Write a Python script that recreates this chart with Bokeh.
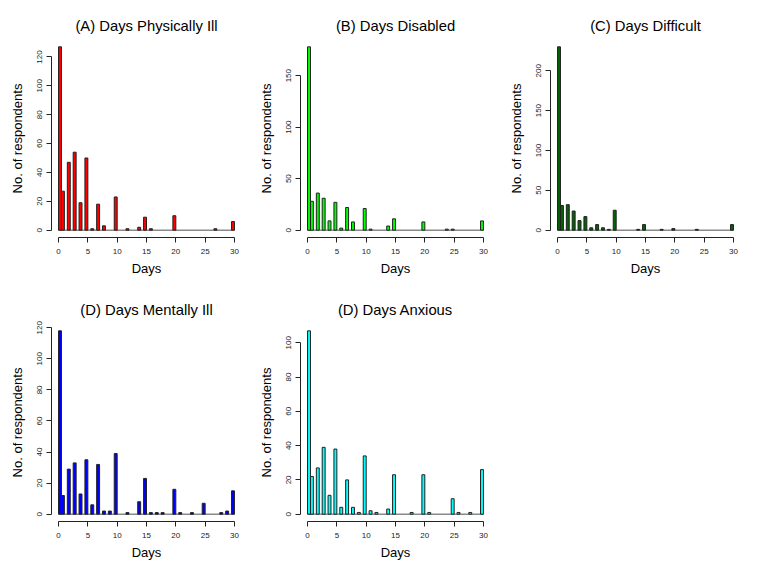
from bokeh.plotting import figure
from bokeh.layouts import column, row
from bokeh.models import Range1d, FixedTicker, ColumnDataSource
from bokeh.embed import file_html
from bokeh.resources import INLINE

FONT = "Liberation Sans"

# ---- data ----
x_ticks = [0, 5, 10, 15, 20, 25, 30]
bin_width = 0.5

a_title = "(A) Days Physically Ill"
a_days = [0, 1, 2, 3, 4, 5, 6, 7, 8, 10, 12, 14, 15, 16, 20, 27, 30]
a_counts = [127, 27, 47, 54, 19, 50, 1, 18, 3, 23, 1, 2, 9, 1, 10, 1, 6]
a_yticks = [0, 20, 40, 60, 80, 100, 120]

b_title = "(B) Days Disabled"
b_days = [0, 1, 2, 3, 4, 5, 6, 7, 8, 10, 11, 14, 15, 20, 24, 25, 30]
b_counts = [178, 28, 36, 31, 9, 27, 2, 22, 8, 21, 1, 4, 11, 8, 1, 1, 9]
b_yticks = [0, 50, 100, 150]

c_title = "(C) Days Difficult"
c_days = [0, 1, 2, 3, 4, 5, 6, 7, 8, 9, 10, 14, 15, 18, 20, 24, 30]
c_counts = [230, 31, 32, 24, 12, 17, 3, 7, 3, 1, 25, 1, 7, 1, 2, 1, 7]
c_yticks = [0, 50, 100, 150, 200]

d_title = "(D) Days Mentally Ill"
d_days = [0, 1, 2, 3, 4, 5, 6, 7, 8, 9, 10, 12, 14, 15, 16, 17, 18, 20, 21, 23, 25, 28, 29, 30]
d_counts = [118, 12, 29, 33, 13, 35, 6, 32, 2, 2, 39, 1, 8, 23, 1, 1, 1, 16, 1, 1, 7, 1, 2, 15]
d_yticks = [0, 20, 40, 60, 80, 100, 120]

e_title = "(D) Days Anxious"
e_days = [0, 1, 2, 3, 4, 5, 6, 7, 8, 9, 10, 11, 12, 14, 15, 18, 20, 21, 25, 26, 28, 30]
e_counts = [107, 22, 27, 39, 11, 38, 4, 20, 4, 1, 34, 2, 1, 3, 23, 1, 23, 1, 9, 1, 1, 26]
e_yticks = [0, 20, 40, 60, 80, 100]


def panel(title, days, counts, yticks, color, width, bl, br, height, bt, bb):
    lo, hi = x_ticks[0], x_ticks[-1]
    span = hi - lo
    ymax = max(counts)
    p = figure(width=width, height=height, output_backend="svg", toolbar_location=None,
               x_range=Range1d(lo - 0.04 * span, hi + 0.04 * span),
               y_range=Range1d(-0.04 * ymax, 1.04 * ymax),
               min_border_left=bl, min_border_right=br,
               min_border_top=bt, min_border_bottom=bb,
               x_axis_label="Days", y_axis_label="No. of respondents",
               title=title)
    p.outline_line_color = None
    p.xgrid.visible = False
    p.ygrid.visible = False
    p.background_fill_color = "white"
    p.border_fill_color = "white"

    p.title.text = title
    p.title.align = "center"
    p.title.text_font = FONT
    p.title.text_font_size = "14.8px"
    p.title.text_font_style = "normal"
    p.title.text_color = "black"
    p.title.standoff = 11

    # histogram bins of width 0.5 (right-closed, first bin includes 0)
    left = [d - bin_width if d > lo else lo for d in days]
    right = [d if d > lo else lo + bin_width for d in days]
    src = ColumnDataSource(dict(left=left, right=right, top=counts))

    p.segment(x0=[lo], x1=[hi], y0=[0], y1=[0], line_color="#8a8a8a", line_width=1.5)
    p.quad(left="left", right="right", bottom=0, top="top", source=src,
           fill_color=color, line_color="#222222", line_width=1)

    p.xaxis.ticker = FixedTicker(ticks=x_ticks)
    p.xaxis.bounds = (lo, hi)
    p.yaxis.ticker = FixedTicker(ticks=yticks)
    p.yaxis.bounds = (yticks[0], yticks[-1])
    p.yaxis.major_label_orientation = "vertical"
    for ax in (p.xaxis[0], p.yaxis[0]):
        ax.axis_line_color = "#222222"
        ax.major_tick_line_color = "#222222"
        ax.major_tick_out = 5
        ax.major_tick_in = 0
        ax.minor_tick_line_color = None
        ax.major_label_text_font = FONT
        ax.major_label_text_font_size = "8px"
        ax.major_label_text_color = "#222222"
        ax.axis_label_text_font = FONT
        ax.axis_label_text_font_size = "13px"
        ax.axis_label_text_font_style = "normal"
        ax.axis_label_text_color = "black"
    p.xaxis.major_label_standoff = 6
    p.xaxis.axis_label_standoff = 4
    p.yaxis.major_label_standoff = 4
    p.yaxis.axis_label_standoff = 10
    return p


pa = panel(a_title, a_days, a_counts, a_yticks, "#FF0000", 252, 51, 11, 285, 39, 48)
pb = panel(b_title, b_days, b_counts, b_yticks, "#00FF00", 250, 48, 12, 285, 39, 48)
pc = panel(c_title, c_days, c_counts, c_yticks, "#006400", 250, 48, 12, 285, 39, 48)
pd = panel(d_title, d_days, d_counts, d_yticks, "#0000FF", 252, 51, 11, 277, 38, 41)
pe = panel(e_title, e_days, e_counts, e_yticks, "#00FFFF", 250, 48, 12, 277, 38, 41)

layout = column(row(pa, pb, pc), row(pd, pe))
open("out.html", "w").write(file_html(layout, INLINE))
